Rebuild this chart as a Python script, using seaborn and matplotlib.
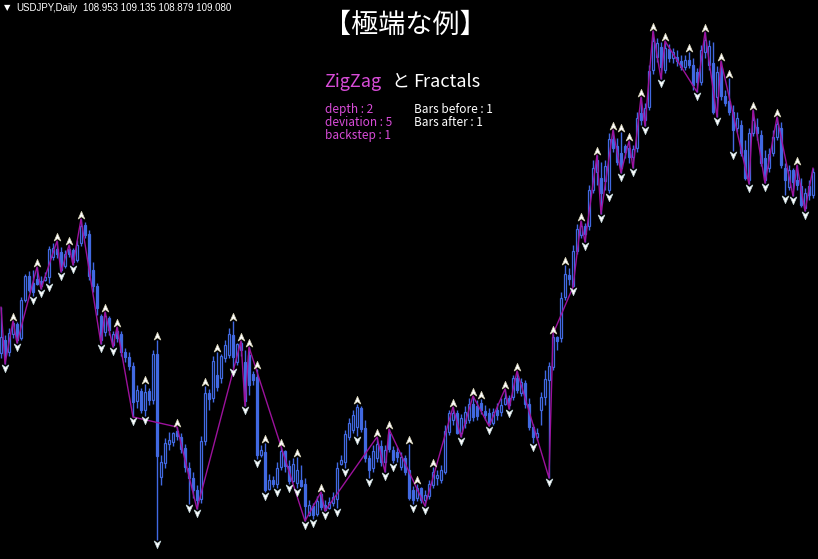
import numpy as np
import pandas as pd
import matplotlib
matplotlib.use("Agg")
import matplotlib.pyplot as plt
import seaborn as sns
from matplotlib.path import Path

# ---- data (price levels, arbitrary price units) ----
opens = [207,220,208,226,236,222,260,284,277,281,
         279,280,283,303,311,308,294,311,310,300,
         317,335,326,290,274,244,228,242,215,229,
         226,208,203,194,159,169,150,169,160,206,
         83,97,116,118,129,123,112,92,82,70,
         61,119,167,162,185,182,202,205,225,198,
         210,198,205,186,183,105,108,71,80,76,
         93,109,94,79,77,80,76,45,54,46,
         66,55,52,57,61,96,98,123,130,133,
         152,132,102,92,102,114,98,126,110,108,
         93,102,90,70,62,72,60,64,75,82,
         80,88,128,140,147,127,137,140,156,154,
         157,149,147,137,150,148,156,162,163,182,
         167,177,156,133,123,150,163,180,193,223,
         222,263,285,274,309,325,334,334,370,388,
         382,379,370,421,414,407,414,412,403,412,
         447,440,453,490,503,513,490,511,502,503,
         499,493,500,495,488,478,508,495,497,463,
         492,464,459,448,432,435,410,380,427,433,
         425,402,392,407,423,432,392,373,390,380,
         374,352,374,365]
highs = [253,225,232,239,238,263,286,289,290,293,
         284,288,314,317,319,313,310,315,312,320,
         341,338,330,298,277,246,248,244,229,233,
         229,212,208,198,175,172,176,172,210,220,
         105,122,128,128,133,127,116,98,88,75,
         124,174,171,204,208,206,220,232,239,217,
         219,210,213,189,191,115,117,86,84,98,
         113,110,100,102,103,95,82,60,57,64,
         68,60,63,68,98,105,130,142,150,156,
         154,140,105,115,123,120,115,131,114,113,
         108,105,116,74,76,73,70,80,93,90,
         95,135,150,153,150,146,154,162,164,160,
         161,155,152,152,157,162,171,165,185,189,
         182,180,162,136,132,168,190,198,226,224,
         268,295,292,315,336,339,337,375,400,405,
         398,400,427,430,422,428,416,419,415,448,
         463,457,495,529,522,518,519,516,512,510,
         505,505,508,502,492,515,528,520,518,494,
         499,470,482,455,448,440,420,432,450,442,
         430,410,412,430,443,438,397,395,392,395,
         382,372,380,392]
lows = [202,196,204,222,217,220,258,268,264,275,
        271,279,277,300,302,288,292,303,295,298,
        314,322,280,268,245,216,224,225,213,218,
        204,198,190,143,152,147,144,155,156,20,
        75,92,110,114,120,107,88,56,62,51,
        57,115,150,158,169,177,198,202,192,195,
        204,154,165,175,101,103,68,70,73,72,
        90,88,76,78,72,73,39,44,41,44,
        50,49,51,54,52,95,92,120,127,124,
        128,98,82,88,98,94,88,108,97,98,
        90,85,60,56,59,57,54,61,72,75,
        77,86,125,135,126,123,132,137,139,140,
        146,140,134,135,140,144,155,151,160,167,
        164,152,130,117,120,135,155,82,190,210,
        218,260,275,273,306,322,318,330,367,375,
        346,370,367,408,395,387,402,397,392,408,
        435,434,450,486,498,481,487,498,497,494,
        490,490,492,470,468,475,502,490,446,443,
        460,454,445,409,428,404,380,376,424,420,
        394,377,388,404,420,392,365,370,364,370,
        353,349,360,362]
closes = [223,205,227,237,220,260,284,270,268,276,
          274,283,311,312,306,290,306,306,298,315,
          334,325,284,274,252,220,244,230,226,222,
          208,203,194,158,170,150,168,160,206,104,
          98,117,120,127,124,111,93,82,70,60,
          119,167,161,199,173,204,215,226,203,216,
          217,159,175,180,105,110,70,80,76,92,
          109,94,79,96,90,74,54,55,45,59,
          53,50,58,63,92,100,126,137,145,153,
          131,102,90,109,116,98,110,111,100,103,
          103,88,62,60,72,60,65,76,88,85,
          90,129,147,147,127,142,148,156,143,144,
          150,145,136,148,145,155,162,155,182,170,
          178,156,133,123,127,163,181,194,223,219,
          262,286,281,309,331,334,326,370,392,400,
          367,394,421,412,398,392,408,403,411,442,
          440,452,489,519,517,493,512,502,508,499,
          493,500,495,475,478,510,520,514,448,488,
          464,457,448,430,442,407,382,427,440,427,
          397,380,406,423,436,395,380,390,378,375,
          355,367,365,388]

# ZigZag turning bars (bar index, H = swing high / L = swing low)
zz_bars = [0,1,3,4,9,10,14,15,17,18,20,25,26,28,29,33,44,49,60,61,62,76,80,81,
           94,96,97,106,113,115,118,122,126,127,129,137,138,143,145,146,149,150,
           153,155,157,158,160,161,163,165,166,174,176,179,180,187,188,191,194,
           198,199,201,203]
zz_kind = ["H","L","H","L","H","L","H","L","H","L","H","L","H","L","H","L","H","L",
           "H","L","H","L","H","L","H","L","H","L","H","L","H","L","H","L","H","L",
           "H","L","H","L","H","L","H","L","H","L","H","L","H","L","H","L","H","L",
           "H","L","H","L","H","L","H","L","H"]

symbol_text = "USDJPY,Daily"
ohlc_text = "108.953 109.135 108.879 109.080"
title_text = "【極端な例】"
zz_params = ["depth : 2", "deviation : 5", "backstep : 1"]
fr_params = ["Bars before : 1", "Bars after : 1"]

# ---- build frame ----
df = pd.DataFrame({"open": opens, "high": highs, "low": lows, "close": closes})
df["bar"] = np.arange(len(df))
df["bull"] = df["close"] >= df["open"]

n = len(df)
H = df["high"].to_numpy()
L = df["low"].to_numpy()
up_fr = [i for i in range(1, n - 1) if H[i] > H[i - 1] and H[i] > H[i + 1]]
dn_fr = [i for i in range(1, n - 1) if L[i] < L[i - 1] and L[i] < L[i + 1]]

zz = pd.DataFrame({"bar": zz_bars, "kind": zz_kind})
zz["val"] = [H[b] if k == "H" else L[b] for b, k in zip(zz_bars, zz_kind)]

# ---- style ----
sns.set_theme(style="dark", rc={"axes.facecolor": "black", "figure.facecolor": "black"})
plt.rcParams["font.family"] = ["DejaVu Sans"]

BLUE = "#4169E1"
ZZC = "#9C129C"
MAG = "#D84CD8"
JP = ["Noto Sans CJK JP", "DejaVu Sans"]

fig = plt.figure(figsize=(8.18, 5.59), dpi=100)
ax = fig.add_axes([0, 0, 1, 1])
ax.set_facecolor("black")

# wicks
ax.vlines(df["bar"], df["low"], df["high"], color=BLUE, lw=1.0, zorder=2)
# bodies
bottoms = np.minimum(df["open"], df["close"])
heights = np.abs(df["close"] - df["open"])
faces = ["black" if b else BLUE for b in df["bull"]]
ax.bar(df["bar"], heights, bottom=bottoms, width=0.72, color=faces,
       edgecolor=BLUE, linewidth=0.9, zorder=3)

# zigzag
sns.lineplot(data=zz, x="bar", y="val", color=ZZC, lw=1.0, ax=ax, zorder=4,
             sort=False, estimator=None)

# fractal arrows
up_path = Path([(0, 1), (0.8, -0.85), (0, -0.3), (-0.8, -0.85), (0, 1)],
               [Path.MOVETO, Path.LINETO, Path.LINETO, Path.LINETO, Path.CLOSEPOLY])
dn_path = Path([(0, -1), (0.8, 0.85), (0, 0.3), (-0.8, 0.85), (0, -1)],
               [Path.MOVETO, Path.LINETO, Path.LINETO, Path.LINETO, Path.CLOSEPOLY])
up_df = pd.DataFrame({"bar": up_fr, "y": [H[i] + 4 for i in up_fr]})
dn_df = pd.DataFrame({"bar": dn_fr, "y": [L[i] - 4 for i in dn_fr]})
sns.scatterplot(data=up_df, x="bar", y="y", marker=up_path, s=36, color="#FFFFFF",
                edgecolor="#D8D4B8", linewidth=0.5, ax=ax, zorder=6)
sns.scatterplot(data=dn_df, x="bar", y="y", marker=dn_path, s=36, color="#FFFFFF",
                edgecolor="#C4D8DC", linewidth=0.5, ax=ax, zorder=6)

ax.set_xlim(-0.25, 204.25)
ax.set_ylim(1, 560)
ax.set_axis_off()

W, Hh = 818, 559
def px(x, y):
    return x / W, 1 - y / Hh

SMALL = ["Liberation Sans", "DejaVu Sans"]
fig.text(*px(4, 8), "▼", color="white", fontsize=6, va="center", ha="left")
fig.text(*px(16, 8), symbol_text, color="white", fontsize=7.0, va="center", ha="left",
         family=SMALL)
fig.text(*px(83, 8), ohlc_text, color="white", fontsize=7.0, va="center", ha="left",
         family=SMALL)

fig.text(*px(405, 25), title_text, color="white", fontsize=19.5, va="center", ha="center",
         family=JP)

fig.text(*px(324, 82), "ZigZag", color=MAG, fontsize=13, va="center", ha="left", family=JP)
fig.text(*px(391, 82), "と", color="white", fontsize=13, va="center", ha="left", family=JP)
fig.text(*px(413, 82), "Fractals", color="white", fontsize=13, va="center", ha="left",
         family=JP)

for k, t in enumerate(zz_params):
    fig.text(*px(325, 109 + 13.5 * k), t, color=MAG, fontsize=8.5, va="center", ha="left",
             family=JP)
for k, t in enumerate(fr_params):
    fig.text(*px(414, 109 + 13.5 * k), t, color="white", fontsize=8.5, va="center", ha="left",
             family=JP)

fig.savefig("out.png", dpi=100, facecolor="black")
